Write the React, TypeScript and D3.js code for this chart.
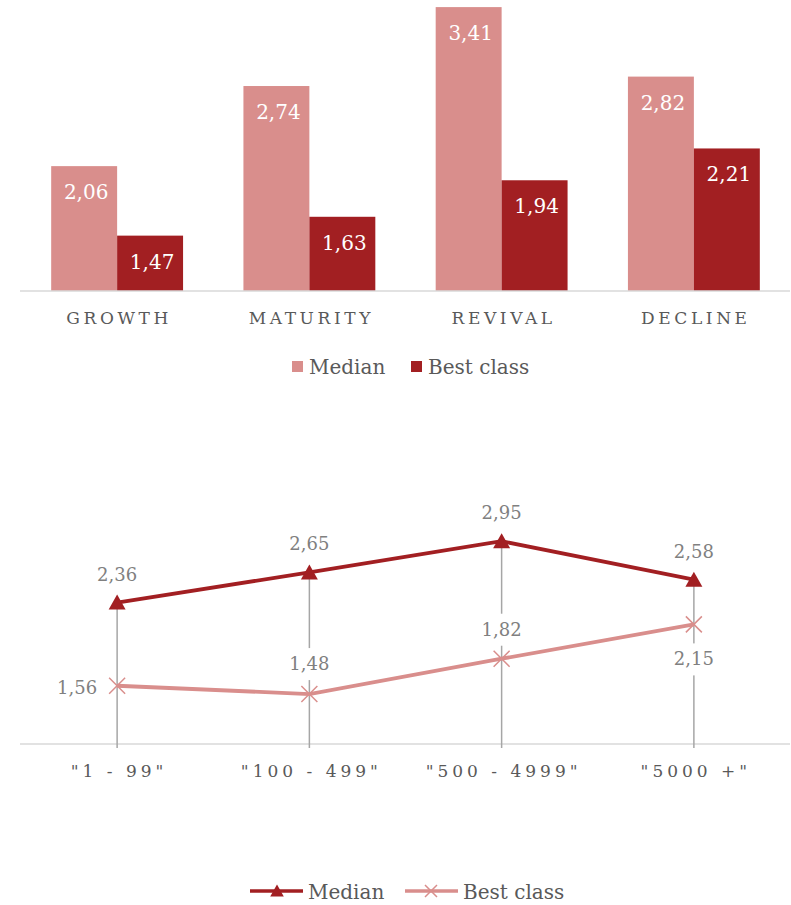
import React from "react";
import * as d3 from "d3";

const stages = ["GROWTH", "MATURITY", "REVIVAL", "DECLINE"];
const stageMedian = [2.06, 2.74, 3.41, 2.82];
const stageBest = [1.47, 1.63, 1.94, 2.21];

const sizes = ['"1 - 99"', '"100 - 499"', '"500 - 4999"', '"5000 +"'];
const sizeMedian = [2.36, 2.65, 2.95, 2.58];
const sizeBest = [1.56, 1.48, 1.82, 2.15];

const seriesNames = ["Median", "Best class"];

const LIGHT = "#D98E8C";
const DARK = "#A21F22";
const FONT = "'DejaVu Serif', Georgia, serif";
const fmt = (v: number) => v.toFixed(2).replace(".", ",");

export default function App() {
  const W = 791;
  const H = 905;

  // ---------- top bar chart ----------
  const x0 = d3.scaleBand<string>().domain(stages).range([21, 790]).paddingInner(0.314).paddingOuter(0.157);
  const x1 = d3.scaleBand<string>().domain(seriesNames).range([0, x0.bandwidth()]).padding(0);
  const yTop = d3.scaleLinear().domain([1, 3.5]).range([291, 291 - 2.5 * 117.8]);
  const barBase = yTop(1);

  // ---------- bottom line chart ----------
  const xp = d3.scalePoint<string>().domain(sizes).range([21, 790]).padding(0.5);
  const yB = d3.scaleLinear().domain([1, 3]).range([744, 744 - 2 * 104]);
  const axisY = yB(1);
  const medPts: [number, number][] = sizes.map((s, i) => [xp(s)!, yB(sizeMedian[i])]);
  const bestPts: [number, number][] = sizes.map((s, i) => [xp(s)!, yB(sizeBest[i])]);
  const line = d3.line();

  const tri = (cx: number, cy: number, s = 1) =>
    `M${cx},${cy - 8 * s}L${cx + 8.5 * s},${cy + 7 * s}L${cx - 8.5 * s},${cy + 7 * s}Z`;
  const cross = (cx: number, cy: number, r: number) =>
    `M${cx - r},${cy - r}L${cx + r},${cy + r}M${cx - r},${cy + r}L${cx + r},${cy - r}`;

  const bestLabelPos = [
    { dx: -20, dy: 8, anchor: "end" },
    { dx: 0, dy: -24, anchor: "middle" },
    { dx: 0, dy: -23, anchor: "middle" },
    { dx: 0, dy: 41, anchor: "middle" },
  ];

  return (
    <svg width={W} height={H} style={{ position: "absolute", left: 0, top: 0, background: "#fff" }} fontFamily={FONT}>
      {/* TOP CHART */}
      <g>
        {stages.map((s, i) => {
          const vals = [stageMedian[i], stageBest[i]];
          return (
            <g key={s} transform={`translate(${x0(s)},0)`}>
              {seriesNames.map((n, j) => {
                const v = vals[j];
                const y = yTop(v);
                return (
                  <g key={n}>
                    <rect x={x1(n)} y={y} width={x1.bandwidth()} height={barBase - y} fill={j === 0 ? LIGHT : DARK} />
                    <text x={x1(n)! + x1.bandwidth() / 2 + 2} y={y + 33} fill="#fff" fontSize={20} textAnchor="middle">
                      {fmt(v)}
                    </text>
                  </g>
                );
              })}
            </g>
          );
        })}
        <line x1={20} x2={790} y1={barBase} y2={barBase} stroke="#D9D9D9" strokeWidth={1.5} />
        {stages.map((s) => (
          <text key={s} x={x0(s)! + x0.bandwidth() / 2 + 2} y={324} fill="#595959" fontSize={17} textAnchor="middle" letterSpacing={3.6}>
            {s}
          </text>
        ))}
        {/* legend */}
        <rect x={292} y={361} width={11} height={11} fill={LIGHT} />
        <text x={309} y={374} fill="#595959" fontSize={20}>Median</text>
        <rect x={411} y={361} width={11} height={11} fill={DARK} />
        <text x={428} y={374} fill="#595959" fontSize={20}>Best class</text>
      </g>

      {/* BOTTOM CHART */}
      <g>
        <line x1={20} x2={790} y1={axisY} y2={axisY} stroke="#D9D9D9" strokeWidth={1.5} />
        {sizes.map((s, i) => (
          <line key={s} x1={xp(s)} x2={xp(s)} y1={yB(Math.max(sizeMedian[i], sizeBest[i]))} y2={axisY + 4} stroke="#A6A6A6" strokeWidth={1.5} />
        ))}
        {sizes.map((s, i) => {
          const p = bestLabelPos[i];
          const cx = p.anchor === "end" ? xp(s)! + p.dx - 21 : xp(s)! + p.dx;
          const cy = bestPts[i][1] + p.dy - 6;
          return <rect key={s} x={cx - 23} y={cy - 16} width={46} height={32} fill="#fff" />;
        })}
        <path d={line(bestPts)!} fill="none" stroke={LIGHT} strokeWidth={3.8} />
        {bestPts.map(([cx, cy], i) => (
          <path key={i} d={cross(cx, cy, 8)} stroke={LIGHT} strokeWidth={1.5} fill="none" />
        ))}
        <path d={line(medPts)!} fill="none" stroke={DARK} strokeWidth={3.8} />
        {medPts.map(([cx, cy], i) => (
          <path key={i} d={tri(cx, cy)} fill={DARK} />
        ))}
        {medPts.map(([cx, cy], i) => (
          <text key={i} x={cx} y={cy - 22} fill="#808080" fontSize={18} textAnchor="middle">
            {fmt(sizeMedian[i])}
          </text>
        ))}
        {bestPts.map(([cx, cy], i) => {
          const p = bestLabelPos[i];
          return (
            <text key={i} x={cx + p.dx} y={cy + p.dy} fill="#808080" fontSize={18} textAnchor={p.anchor as any}>
              {fmt(sizeBest[i])}
            </text>
          );
        })}
        {sizes.map((s) => (
          <text key={s} x={xp(s)! + 2} y={777} fill="#595959" fontSize={17} textAnchor="middle" letterSpacing={4}>
            {s}
          </text>
        ))}
        {/* legend */}
        <line x1={250} x2={303} y1={891} y2={891} stroke={DARK} strokeWidth={3.5} />
        <path d={tri(277, 891, 0.8)} fill={DARK} />
        <text x={308} y={899} fill="#595959" fontSize={20}>Median</text>
        <line x1={405} x2={458} y1={891} y2={891} stroke={LIGHT} strokeWidth={3.5} />
        <path d={cross(431, 891, 6)} stroke={LIGHT} strokeWidth={1.5} fill="none" />
        <text x={463} y={899} fill="#595959" fontSize={20}>Best class</text>
      </g>
    </svg>
  );
}
